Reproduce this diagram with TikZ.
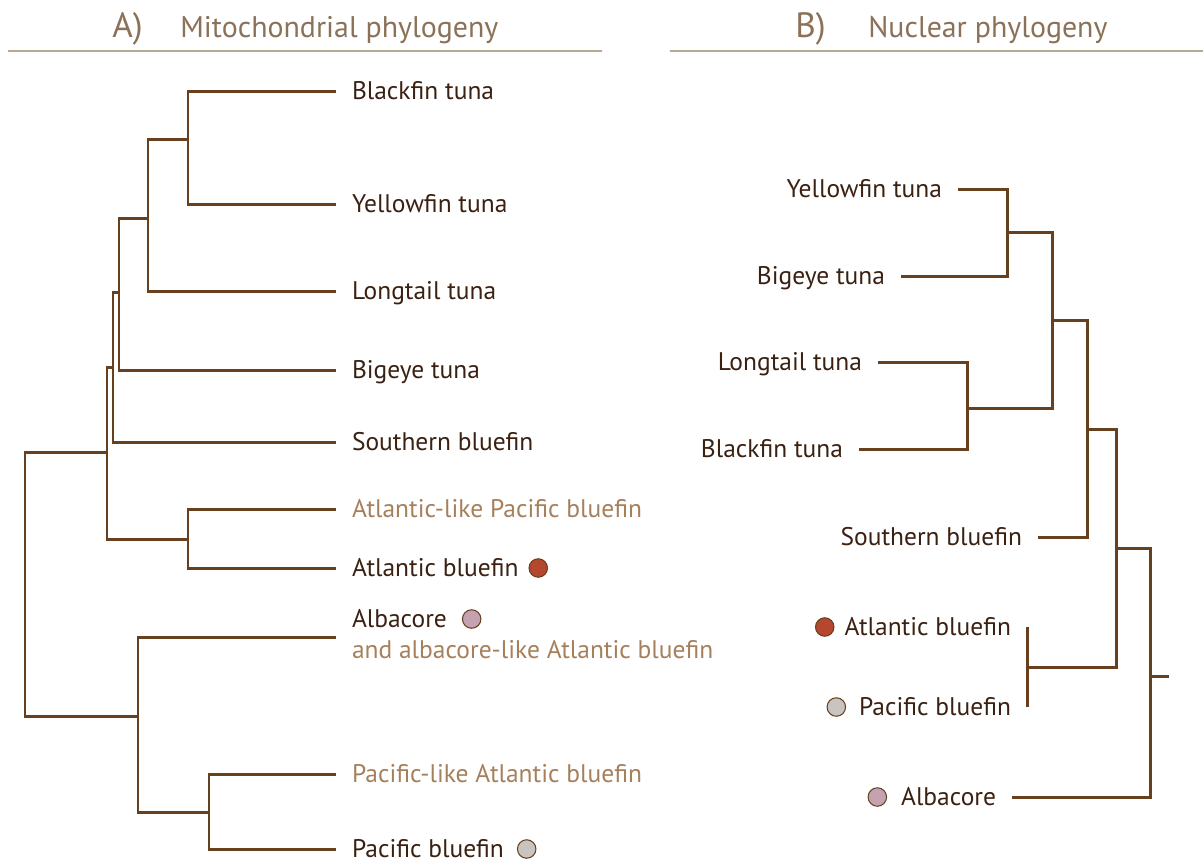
\documentclass[tikz,border=0pt]{standalone}
\usepackage{fontspec}
\setmainfont{PT Sans}
\usetikzlibrary{positioning}
\definecolor{brn}{HTML}{67411F}
\definecolor{ink}{HTML}{3A2112}
\definecolor{likecol}{HTML}{A67F5B}
\definecolor{ttlcol}{HTML}{8B7158}
\definecolor{rulecol}{HTML}{B8A890}
\definecolor{atlred}{HTML}{B5472F}
\definecolor{albmauve}{HTML}{C4A2B2}
\definecolor{pacgrey}{HTML}{C9C4C0}
\tikzset{
  leaf/.style={inner xsep=0.16cm, outer xsep=0.16cm, inner ysep=0pt,
               text height=10.1pt, text depth=0pt, text=ink,
               font=\fontsize{14.5}{17}\selectfont},
  likeleaf/.style={leaf, text=likecol},
  ttl/.style={inner sep=0pt, text height=11.9pt, text depth=0pt, text=ttlcol,
              font=\fontsize{17}{20}\selectfont},
  edge/.style={draw=brn, line width=1.7pt},
  rule/.style={draw=rulecol, line width=0.7pt},
  dot/.style={circle, draw=brn, line width=0.6pt, minimum size=0.37cm, inner sep=0pt}
}

\begin{document}
\begin{tikzpicture}[x=0.02cm, y=-0.02cm]
\useasboundingbox (0,0) rectangle (1203,863);

% headings
\node[ttl, anchor=west] (hA) at (112,27) {\fontsize{20}{21}\selectfont A)};
\node[ttl, anchor=west] (hAtxt) at (180,27) {Mitochondrial phylogeny};
\node[ttl, anchor=west] (hB) at (795,27) {\fontsize{20}{21}\selectfont B)};
\node[ttl, anchor=west] (hBtxt) at (868,27) {Nuclear phylogeny};
\draw[rule] (8,51) -- (602,51);
\draw[rule] (670,51) -- (1203,51);

% A) mitochondrial tree
\node[leaf, anchor=west] (bf) at (336,91) {Blackfin tuna};
\node[leaf, anchor=west] (yf) at (336,204) {Yellowfin tuna};
\node[leaf, anchor=west] (lt) at (336,291) {Longtail tuna};
\node[leaf, anchor=west] (be) at (336,370) {Bigeye tuna};
\node[leaf, anchor=west] (sb) at (336,442) {Southern bluefin};
\node[likeleaf, anchor=west] (alp) at (336,509) {Atlantic-like Pacific bluefin};
\node[leaf, anchor=west] (ab) at (336,568) {Atlantic bluefin};
\node[leaf, anchor=west] (alb) at (336,619) {Albacore};
\node[likeleaf, anchor=west] (albsub) at (336,650) {and albacore-like Atlantic bluefin};
\node[likeleaf, anchor=west] (pla) at (336,774) {Pacific-like Atlantic bluefin};
\node[leaf, anchor=west] (pb) at (336,849) {Pacific bluefin};

\node[dot, fill=atlred, right=-0.12cm of ab] (abdot) {};
\node[dot, fill=albmauve, right=-0.02cm of alb] (albdot) {};
\node[dot, fill=pacgrey, right=-0.06cm of pb] (pbdot) {};

\coordinate (albtip) at (336,637);
\coordinate (m1) at (188,139);
\coordinate (m2) at (148,218);
\coordinate (m3) at (119,292);
\coordinate (m4) at (113,367);
\coordinate (m5) at (188,539);
\coordinate (m6) at (107,452);
\coordinate (m7) at (209,812);
\coordinate (m8) at (138,716);
\coordinate (m9) at (25,580);

\draw[edge] (bf.west) -| (m1) |- (yf.west);
\draw[edge] (m1) -| (m2) |- (lt.west);
\draw[edge] (m2) -| (m3) |- (be.west);
\draw[edge] (m3) -| (m4) |- (sb.west);
\draw[edge] (alp.west) -| (m5) |- (ab.west);
\draw[edge] (m4) -| (m6) |- (m5);
\draw[edge] (pla.west) -| (m7) |- (pb.west);
\draw[edge] (albtip) -| (m8) |- (m7);
\draw[edge] (m6) -| (m9) |- (m8);

% B) nuclear tree
\node[leaf, anchor=east] (yfR) at (958,189) {Yellowfin tuna};
\node[leaf, anchor=east] (beR) at (901,276) {Bigeye tuna};
\node[leaf, anchor=east] (ltR) at (878,362) {Longtail tuna};
\node[leaf, anchor=east] (bfR) at (859,449) {Blackfin tuna};
\node[leaf, anchor=east] (sbR) at (1038,537) {Southern bluefin};
\node[leaf, anchor=east] (atR) at (1027,627) {Atlantic bluefin};
\node[leaf, anchor=east] (paR) at (1027,707) {Pacific bluefin};
\node[leaf, anchor=east] (alR) at (1012,797) {Albacore};

\node[dot, fill=atlred, left=-0.12cm of atR] (atdot) {};
\node[dot, fill=pacgrey, left=-0.06cm of paR] (padot) {};
\node[dot, fill=albmauve, left=-0.04cm of alR] (aldot) {};

\coordinate (n1) at (1007,232);
\coordinate (n2) at (967,408);
\coordinate (n3) at (1052,320);
\coordinate (n4) at (1087,429);
\coordinate (n5) at (1027,667);
\coordinate (n6) at (1116,548);
\coordinate (n7) at (1150,676);
\coordinate (rootR) at (1169,676);

\draw[edge] (yfR.east) -| (n1) |- (beR.east);
\draw[edge] (ltR.east) -| (n2) |- (bfR.east);
\draw[edge] (n1) -| (n3) |- (n2);
\draw[edge] (n3) -| (n4) |- (sbR.east);
\draw[edge] (atR.east) -- (paR.east);
\draw[edge] (n4) -| (n6) |- (n5);
\draw[edge] (n6) -| (n7) |- (alR.east);
\draw[edge] (n7) -- (rootR);
\end{tikzpicture}
\end{document}
